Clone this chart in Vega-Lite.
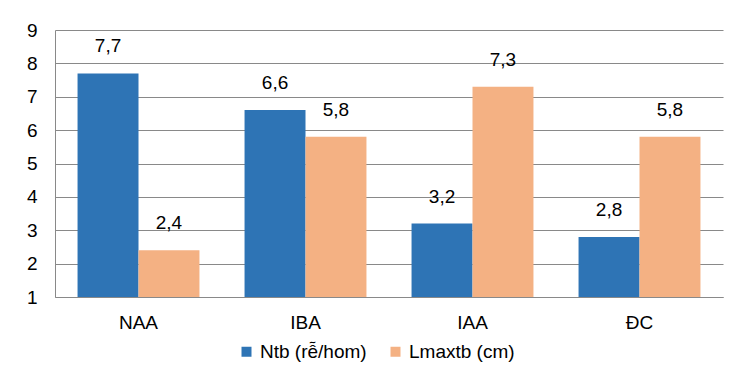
{
  "$schema": "https://vega.github.io/schema/vega-lite/v6.json",
  "autosize": "none",
  "width": 668,
  "height": 267,
  "padding": {"left": 55, "top": 30, "right": 17, "bottom": 78},
  "background": "white",
  "config": {
    "locale": {"number": {"decimal": ",", "thousands": ".", "grouping": [3], "currency": ["", ""]}},
    "font": "Liberation Sans",
    "view": {"stroke": null},
    "axis": {"labelFont": "Liberation Sans", "labelColor": "#000000"}
  },
  "data": {
    "values": [
      {"cat": "NAA", "series": "Ntb (rễ/hom)", "v": 7.7},
      {"cat": "NAA", "series": "Lmaxtb (cm)", "v": 2.4},
      {"cat": "IBA", "series": "Ntb (rễ/hom)", "v": 6.6},
      {"cat": "IBA", "series": "Lmaxtb (cm)", "v": 5.8},
      {"cat": "IAA", "series": "Ntb (rễ/hom)", "v": 3.2},
      {"cat": "IAA", "series": "Lmaxtb (cm)", "v": 7.3},
      {"cat": "ĐC", "series": "Ntb (rễ/hom)", "v": 2.8},
      {"cat": "ĐC", "series": "Lmaxtb (cm)", "v": 5.8}
    ]
  },
  "encoding": {
    "x": {
      "field": "cat", "type": "nominal", "sort": null,
      "scale": {"paddingInner": 0.27, "paddingOuter": 0.135},
      "axis": {"title": null, "labelAngle": 0, "labelFontSize": 19, "labelPadding": 16, "ticks": false, "domainColor": "#898989", "domainWidth": 1}
    },
    "xOffset": {"field": "series", "type": "nominal", "sort": ["Ntb (rễ/hom)", "Lmaxtb (cm)"]},
    "y": {
      "field": "v", "type": "quantitative",
      "scale": {"domain": [1, 9], "zero": false, "nice": false},
      "axis": {"title": null, "values": [1,2,3,4,5,6,7,8,9], "labelFontSize": 19, "labelPadding": 18, "ticks": false, "gridColor": "#898989", "gridWidth": 1, "domainColor": "#898989", "domainWidth": 1}
    }
  },
  "layer": [
    {
      "mark": {"type": "bar"},
      "encoding": {
        "y2": {"datum": 1},
        "color": {
          "field": "series", "type": "nominal", "sort": ["Ntb (rễ/hom)", "Lmaxtb (cm)"],
          "scale": {"domain": ["Ntb (rễ/hom)", "Lmaxtb (cm)"], "range": ["#2E74B5", "#F4B183"]},
          "legend": {
            "title": null, "orient": "none", "direction": "horizontal",
            "legendX": 182, "legendY": 312,
            "symbolType": "square", "symbolSize": 100, "symbolStrokeWidth": 0,
            "labelFontSize": 19, "labelFont": "Liberation Sans", "labelColor": "#000000",
            "columnPadding": 19, "labelOffset": 4
          }
        }
      }
    },
    {
      "mark": {"type": "text", "baseline": "alphabetic", "dy": -21, "fontSize": 19, "font": "Liberation Sans", "color": "#000000"},
      "encoding": {
        "text": {"field": "v", "type": "quantitative", "format": ".1f"}
      }
    }
  ]
}
